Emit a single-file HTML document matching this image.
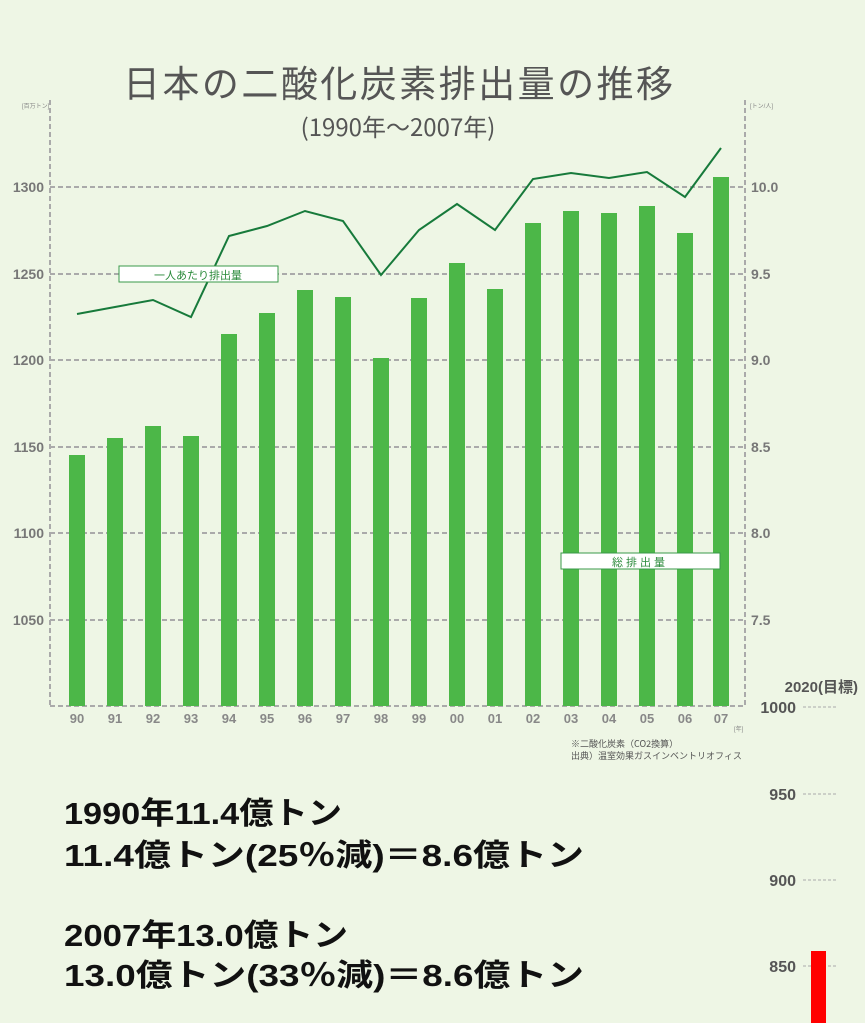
<!DOCTYPE html>
<html><head><meta charset="utf-8"><style>
html,body{margin:0;padding:0;background:#eef6e5;}
svg{display:block;}
</style></head><body>
<svg width="865" height="1023" viewBox="0 0 865 1023" xmlns="http://www.w3.org/2000/svg" font-family="Liberation Sans, Noto Sans CJK JP, sans-serif">
<rect width="865" height="1023" fill="#eef6e5"/>
<text x="398" y="97" font-size="37" fill="#555" text-anchor="middle" font-family="Noto Sans CJK JP, sans-serif" textLength="550">日本の二酸化炭素排出量の推移</text>
<text x="398" y="136" font-size="24" fill="#555" text-anchor="middle" font-family="Noto Sans CJK JP, sans-serif">(1990年～2007年)</text>
<g stroke="#aaa" stroke-width="2" stroke-dasharray="5,3" fill="none">
<line x1="50" y1="100" x2="50" y2="706"/>
<line x1="745" y1="100" x2="745" y2="706"/>
<line x1="50" y1="706" x2="745" y2="706"/>
<line x1="50" y1="187" x2="745" y2="187"/>
<line x1="50" y1="274" x2="745" y2="274"/>
<line x1="50" y1="360" x2="745" y2="360"/>
<line x1="50" y1="447" x2="745" y2="447"/>
<line x1="50" y1="533" x2="745" y2="533"/>
<line x1="50" y1="620" x2="745" y2="620"/>
</g>
<g fill="#777" font-size="14" font-weight="bold" text-anchor="end">
<text x="44" y="192">1300</text><text x="44" y="279">1250</text><text x="44" y="365">1200</text>
<text x="44" y="452">1150</text><text x="44" y="538">1100</text><text x="44" y="625">1050</text>
</g>
<g fill="#777" font-size="14" font-weight="bold">
<text x="751" y="192">10.0</text><text x="751" y="279">9.5</text><text x="751" y="365">9.0</text>
<text x="751" y="452">8.5</text><text x="751" y="538">8.0</text><text x="751" y="625">7.5</text>
</g>
<text x="22" y="108" font-size="6" fill="#888">[百万トン]</text>
<text x="750" y="108" font-size="6" fill="#888">[トン/人]</text>
<g fill="#4cb748">
<rect x="69" y="455" width="16" height="251"/>
<rect x="107" y="438" width="16" height="268"/>
<rect x="145" y="426" width="16" height="280"/>
<rect x="183" y="436" width="16" height="270"/>
<rect x="221" y="334" width="16" height="372"/>
<rect x="259" y="313" width="16" height="393"/>
<rect x="297" y="290" width="16" height="416"/>
<rect x="335" y="297" width="16" height="409"/>
<rect x="373" y="358" width="16" height="348"/>
<rect x="411" y="298" width="16" height="408"/>
<rect x="449" y="263" width="16" height="443"/>
<rect x="487" y="289" width="16" height="417"/>
<rect x="525" y="223" width="16" height="483"/>
<rect x="563" y="211" width="16" height="495"/>
<rect x="601" y="213" width="16" height="493"/>
<rect x="639" y="206" width="16" height="500"/>
<rect x="677" y="233" width="16" height="473"/>
<rect x="713" y="177" width="16" height="529"/>
</g>
<polyline fill="none" stroke="#177a3b" stroke-width="2" points="77,314 115,307 153,300 191,317 229,236 267,226 305,211 343,221 381,275 419,230 457,204 495,230 533,179 571,173 609,178 647,172 685,197 721,148"/>
<rect x="119" y="266" width="159" height="16" fill="#fff" stroke="#3a9a4a" stroke-width="1"/>
<text x="198" y="279" font-size="11" fill="#2a8a3a" text-anchor="middle" font-family="Noto Sans CJK JP, sans-serif">一人あたり排出量</text>
<rect x="561" y="553" width="159" height="16" fill="#fff" stroke="#3a9a4a" stroke-width="1"/>
<text x="640" y="566" font-size="11" fill="#2a8a3a" text-anchor="middle" font-family="Noto Sans CJK JP, sans-serif" letter-spacing="3">総排出量</text>
<g fill="#888" font-size="13" font-weight="bold" text-anchor="middle">
<text x="77" y="723">90</text><text x="115" y="723">91</text><text x="153" y="723">92</text><text x="191" y="723">93</text>
<text x="229" y="723">94</text><text x="267" y="723">95</text><text x="305" y="723">96</text><text x="343" y="723">97</text>
<text x="381" y="723">98</text><text x="419" y="723">99</text><text x="457" y="723">00</text><text x="495" y="723">01</text>
<text x="533" y="723">02</text><text x="571" y="723">03</text><text x="609" y="723">04</text><text x="647" y="723">05</text>
<text x="685" y="723">06</text><text x="721" y="723">07</text>
</g>
<text x="734" y="731" font-size="6" fill="#888">[年]</text>
<text x="571" y="747" font-size="9" fill="#555" font-family="Noto Sans CJK JP, sans-serif">※二酸化炭素（CO2換算）</text>
<text x="571" y="759" font-size="9" fill="#555" font-family="Noto Sans CJK JP, sans-serif">出典）温室効果ガスインベントリオフィス</text>
<text x="858" y="692" font-size="15" font-weight="bold" fill="#555" text-anchor="end">2020(目標)</text>
<g fill="#555" font-size="16" font-weight="bold" text-anchor="end">
<text x="796" y="713">1000</text><text x="796" y="800">950</text><text x="796" y="886">900</text><text x="796" y="972">850</text>
</g>
<g stroke="#aaa" stroke-width="1" stroke-dasharray="3,2">
<line x1="803" y1="707" x2="836" y2="707"/><line x1="803" y1="794" x2="836" y2="794"/>
<line x1="803" y1="880" x2="836" y2="880"/><line x1="803" y1="966" x2="836" y2="966"/>
</g>
<rect x="811" y="951" width="15" height="72" fill="#ff0000"/>
<g fill="#111" font-size="31" font-weight="bold" font-family="Liberation Sans, Noto Sans CJK JP, sans-serif">
<text x="64" y="824" textLength="278" lengthAdjust="spacingAndGlyphs">1990年11.4億トン</text>
<text x="64" y="866" textLength="520" lengthAdjust="spacingAndGlyphs">11.4億トン(25％減)＝8.6億トン</text>
<text x="64" y="946" textLength="284" lengthAdjust="spacingAndGlyphs">2007年13.0億トン</text>
<text x="64" y="986" textLength="520" lengthAdjust="spacingAndGlyphs">13.0億トン(33％減)＝8.6億トン</text>
</g>
</svg>
</body></html>
